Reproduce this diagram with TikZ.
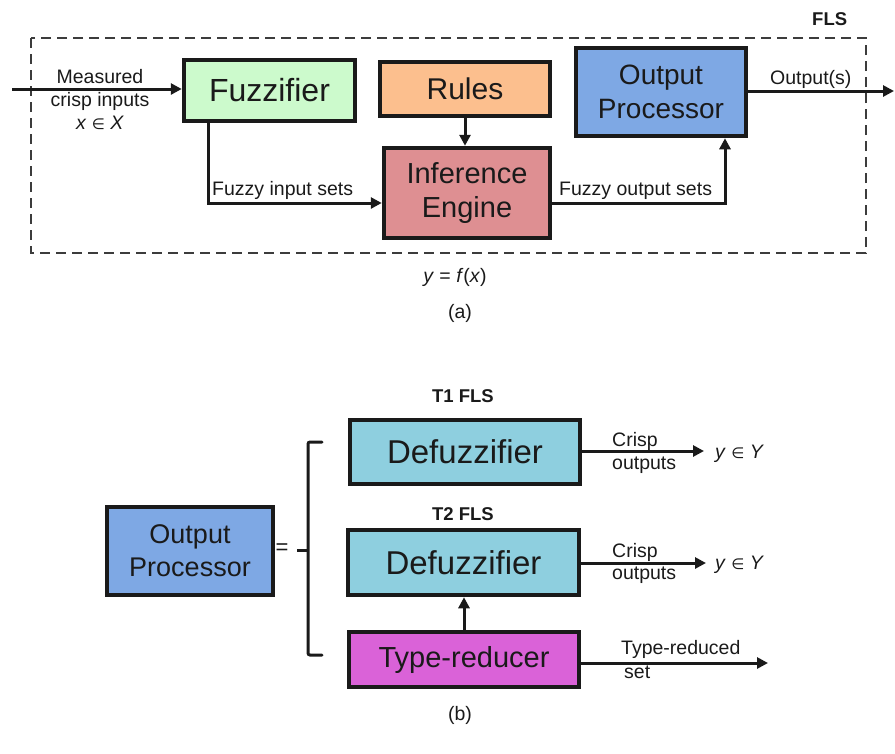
\documentclass[tikz,border=0pt]{standalone}
\usepackage{fontspec}
\setmainfont{Liberation Sans}
\newfontfamily\symf{DejaVu Sans}
\usetikzlibrary{arrows.meta}

\definecolor{inkc}{HTML}{1A1A1A}
\definecolor{fuzzc}{HTML}{CCFACC}
\definecolor{rulec}{HTML}{FCBF8E}
\definecolor{infc}{HTML}{DE8F92}
\definecolor{outc}{HTML}{7EA8E4}
\definecolor{defc}{HTML}{8ECFDF}
\definecolor{trc}{HTML}{DA62D8}

\newcommand\fsz[2]{\fontsize{#1}{#2}\selectfont}
\newcommand\elem{{\symf\fontsize{15}{18}\selectfont ∈}}

\tikzset{
  blk/.style={draw=inkc, line width=4.5pt, text=inkc, inner sep=0pt, align=center},
  conn/.style={draw=inkc, line width=3pt, -{Triangle[length=11pt,width=11pt]}},
  lbl/.style={text=inkc, inner sep=0pt, font=\fsz{19.5}{23}},
  hdr/.style={text=inkc, inner sep=0pt, font=\fsz{18.5}{22}\bfseries},
}

\begin{document}
\begin{tikzpicture}[x=1pt,y=-1pt]
\useasboundingbox (0,0) rectangle (895,753);

% ---------- (a) FLS block diagram ----------
\draw[inkc!85, line width=2pt, dash pattern=on 10pt off 6pt] (31,38) rectangle (866,253);
\node[hdr, anchor=base west] (flsT) at (812,25) {FLS};

\node[blk, fill=fuzzc, minimum width=171pt, minimum height=61pt, font=\fsz{32}{36}] (fuzz) at (269.5,90.5) {Fuzzifier};
\node[blk, fill=rulec, minimum width=170pt, minimum height=54pt, font=\fsz{30}{34}] (rules) at (465,89) {Rules};
\node[blk, fill=infc, minimum width=166pt, minimum height=90pt, font=\fsz{29}{34}] (infer) at (467,193) {Inference\\Engine};
\node[blk, fill=outc, minimum width=170pt, minimum height=88pt, font=\fsz{28}{34}] (outp) at (661,92) {Output\\Processor};

\coordinate (inS) at (12,89);
\coordinate (outE) at (894,91);

\draw[conn] (inS) -- (inS -| fuzz.west);
\draw[conn] ([xshift=-61.5pt]fuzz.south) |- ([yshift=-10pt]infer.west);
\draw[conn] (rules.south) -- (rules.south |- infer.north);
\draw[conn] ([yshift=-10pt]infer.east) -| ([xshift=64pt]outp.south);
\draw[conn] (outp.east |- outE) -- (outE);

\node[lbl, anchor=base] (mIn1) at (100,83) {Measured};
\node[lbl, anchor=base] (mIn2) at (100,106) {crisp inputs};
\node[lbl, anchor=base] (mIn3) at (100,129) {\textit{x} \elem\ \textit{X}};
\node[lbl, anchor=base west] (fis) at (212,195) {Fuzzy input sets};
\node[lbl, anchor=base west] (fos) at (559,195) {Fuzzy output sets};
\node[lbl, anchor=base west] (outs) at (770,84) {Output(s)};
\node[lbl, anchor=base] (yfx) at (455,282) {\textit{y} = \textit{f}(\textit{x})};
\node[lbl, anchor=base] (capA) at (460,318) {(a)};

% ---------- (b) output processor variants ----------
\node[blk, fill=outc, minimum width=166pt, minimum height=88pt, font=\fsz{27}{33}] (outp2) at (190,551) {Output\\Processor};
\node[lbl, anchor=center, font=\fsz{22}{24}] (eqs) at (282,549) {=};

% bracket grouping the two variants
\draw[inkc, line width=3pt, line cap=round, rounded corners=2pt]
  (322,442) -- (308,442) -- (308,655) -- (322,655);
\draw[inkc, line width=3pt] (297,550) -- (308,550);

\node[hdr, anchor=base] (t1) at (463,402) {T1 FLS};
\node[blk, fill=defc, minimum width=230pt, minimum height=64pt, font=\fsz{33}{36}] (defz1) at (465,452) {Defuzzifier};

\node[hdr, anchor=base] (t2) at (463,520) {T2 FLS};
\node[blk, fill=defc, minimum width=231pt, minimum height=65pt, font=\fsz{33}{36}] (defz2) at (463.5,562.5) {Defuzzifier};
\node[blk, fill=trc, minimum width=230pt, minimum height=55pt, font=\fsz{29}{34}] (tred) at (464,659.5) {Type-reducer};

\coordinate (c1) at (704,451);
\coordinate (c2) at (706,563);
\coordinate (c3) at (768,663);

\draw[conn] (defz1.east |- c1) -- (c1);
\draw[conn] (defz2.east |- c2) -- (c2);
\draw[conn] (tred.north) -- (tred.north |- defz2.south);
\draw[conn] (tred.east |- c3) -- (c3);

\node[lbl, anchor=base west] (cr1a) at (612,446) {Crisp};
\node[lbl, anchor=base west] (cr1b) at (612,469) {outputs};
\node[lbl, anchor=base west] (y1) at (715,458) {\textit{y} \elem\ \textit{Y}};
\node[lbl, anchor=base west] (cr2a) at (612,557) {Crisp};
\node[lbl, anchor=base west] (cr2b) at (612,579) {outputs};
\node[lbl, anchor=base west] (y2) at (715,569) {\textit{y} \elem\ \textit{Y}};
\node[lbl, anchor=base west] (trs1) at (621,654) {Type-reduced};
\node[lbl, anchor=base west] (trs2) at (624,678) {set};
\node[lbl, anchor=base] (capB) at (460,720) {(b)};
\end{tikzpicture}
\end{document}
